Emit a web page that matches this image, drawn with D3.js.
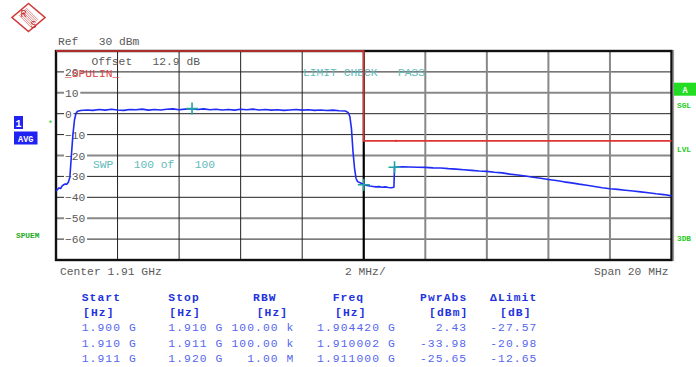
<!DOCTYPE html>
<html><head><meta charset="utf-8">
<script src="https://cdn.jsdelivr.net/npm/d3@7"></script>
<style>
html,body{margin:0;padding:0;background:#fff;}
svg{display:block;}
text{font-family:"Liberation Mono","DejaVu Sans Mono",monospace;white-space:pre;}
</style></head>
<body>
<svg id="c" width="696" height="367"></svg>
<script>
// ---------- DATA ----------
const refLevel = "Ref   30 dBm";
const offsetText = "Offset   12.9 dB";
const yTicks = [20, 10, 0, -10, -20, -30, -40, -50, -60];
const xDivisionsMHz = [0, 2, 4, 6, 8, 10, 12, 14, 16, 18, 20];
// trace: frequency offset from 1.900 GHz (MHz) and level (dBm)
const traceMHz = [
  0.00,0.05,0.10,0.15,0.20,0.25,0.30,0.35,0.40,0.45,0.50,0.55,0.60,0.65,0.70,
  0.8,1.0,1.2,1.4,1.6,1.8,2.0,2.2,2.4,2.6,2.8,3.0,3.2,3.4,3.6,3.8,4.0,4.2,4.4,4.6,4.8,
  5.0,5.2,5.4,5.6,5.8,6.0,6.2,6.4,6.6,6.8,7.0,7.2,7.4,7.6,7.8,8.0,8.2,8.4,8.6,8.8,9.0,9.2,9.4,
  9.50,9.55,9.60,9.65,9.70,9.75,9.80,9.90,10.0,10.1,10.2,10.3,10.4,10.5,10.6,10.7,10.8,10.9,10.98,
  11.0,11.25,11.5,11.75,12.0,12.25,12.5,12.75,13.0,13.25,13.5,13.75,14.0,14.25,14.5,14.75,
  15.0,15.25,15.5,15.75,16.0,16.25,16.5,16.75,17.0,17.25,17.5,17.75,18.0,18.25,18.5,18.75,
  19.0,19.25,19.5,19.75,20.0
];
const traceDbm = [
  -37.0,-36.2,-35.5,-35.8,-34.5,-34.0,-33.6,-33.8,-32.8,-30.5,-20.0,-10.0,-3.0,0.2,1.2,
  1.5,1.8,1.6,2.0,1.7,2.1,1.8,1.6,2.0,1.9,2.2,1.7,2.0,1.8,2.1,2.3,1.9,2.2,2.4,2.0,2.3,
  1.9,2.1,1.8,2.0,1.7,2.1,1.9,2.2,1.8,2.0,1.7,1.9,1.6,1.8,2.0,1.7,1.9,1.6,1.8,1.5,1.7,1.4,1.3,
  0.5,-1.5,-7.0,-18.0,-26.0,-31.0,-32.5,-33.2,-33.9,-34.3,-34.6,-34.8,-35.0,-34.9,-35.2,-35.0,-35.3,-35.4,-35.2,
  -25.6,-25.4,-25.5,-25.6,-25.7,-25.9,-26.0,-26.3,-26.5,-26.8,-27.1,-27.4,-27.6,-28.0,-28.3,-28.9,
  -29.3,-29.8,-30.4,-30.9,-31.5,-32.0,-32.6,-33.1,-33.7,-34.2,-34.8,-35.4,-35.9,-36.2,-36.6,-37.0,
  -37.4,-37.8,-38.3,-38.7,-39.3
];
// limit line segments (MHz offset, dBm)
const limitMHz = [0, 10, 10, 20];
const limitDbm = [30, 30, -13, -13];
const limitDotMHz = 11.05;
// markers
const markerMHz = [4.42, 10.002, 11.0];
const markerDbm = [2.43, -33.98, -25.65];
// table
const tableHeaders = ["Start", "Stop", "RBW", "Freq", "PwrAbs", "\u0394Limit"];
const tableUnits = ["[Hz]", "[Hz]", "[Hz]", "[Hz]", "[dBm]", "[dB]"];
const colStart = ["1.900 G", "1.910 G", "1.911 G"];
const colStop = ["1.910 G", "1.911 G", "1.920 G"];
const colRBW = ["100.00 k", "100.00 k", "1.00 M"];
const colFreq = ["1.904420 G", "1.910002 G", "1.911000 G"];
const colPwr = ["2.43", "-33.98", "-25.65"];
const colDelta = ["-27.57", "-20.98", "-12.65"];

// ---------- DRAW ----------
const svg = d3.select("#c");
const L = 56, R = 671.5, T = 51, B = 260;
const x = d3.scaleLinear().domain([0, 20]).range([L, R]);
const y = d3.scaleLinear().domain([30, -70]).range([T, B]);
const FS = 11.3;
const grey = "#5a5a5a";

// logo
const logo = svg.append("g").attr("transform", "translate(28.5,17.5)");
logo.append("path").attr("d", "M0,-14 L16.5,0 L0,14 L-16.5,0 Z")
  .attr("fill", "none").attr("stroke", "#d23a3a").attr("stroke-width", 1.6);
for (let i = -3; i <= 3; i++) {
  logo.append("line").attr("x1", -6 + i * 1.2).attr("y1", -6 + i * -1.2)
    .attr("x2", 6 + i * 1.2).attr("y2", 6 + i * -1.2)
    .attr("stroke", "#d23a3a").attr("stroke-width", 0.6);
}
logo.append("text").attr("x", -5).attr("y", -1).attr("font-size", 10)
  .attr("text-anchor", "middle").attr("fill", "#c82828").attr("font-family", "Liberation Sans").text("R");
logo.append("text").attr("x", 5).attr("y", 10).attr("font-size", 10)
  .attr("text-anchor", "middle").attr("fill", "#c82828").attr("font-family", "Liberation Sans").text("S");

// header texts
svg.append("text").attr("x", 58).attr("y", 45).attr("font-size", FS).attr("fill", grey).text(refLevel);

// grid
const grid = svg.append("g");
const thickH = new Set([10, -20, -50]);
yTicks.forEach(v => {
  grid.append("line").attr("x1", L).attr("x2", R).attr("y1", y(v)).attr("y2", y(v))
    .attr("stroke", thickH.has(v) ? "#888" : "#222").attr("stroke-width", thickH.has(v) ? 2 : 1);
});
xDivisionsMHz.slice(1, -1).forEach(v => {
  const center = v === 10;
  const greyV = v > 10;
  grid.append("line").attr("x1", x(v)).attr("x2", x(v)).attr("y1", T).attr("y2", B)
    .attr("stroke", center ? "#000" : (greyV ? "#888" : "#222"))
    .attr("stroke-width", center ? 2.2 : (greyV ? 2 : 1));
});

// frame
svg.append("rect").attr("x", L).attr("y", T).attr("width", R - L).attr("height", B - T)
  .attr("fill", "none").attr("stroke", "#111").attr("stroke-width", 2.4);
svg.append("line").attr("x1", R + 2).attr("x2", R + 2).attr("y1", T - 1).attr("y2", B + 1)
  .attr("stroke", "#999").attr("stroke-width", 1.2);

// y tick labels with white background
yTicks.forEach(v => {
  const t = svg.append("text").attr("x", 65).attr("y", y(v) + 4).attr("font-size", FS)
    .attr("fill", grey).text(v < 0 ? "\u2212" + Math.abs(v) : String(v));
  const bb = t.node().getBBox();
  svg.insert("rect", () => t.node()).attr("x", bb.x - 1).attr("y", y(v) - 2)
    .attr("width", bb.width + 2.5).attr("height", 4).attr("fill", "#fff");
});

svg.append("text").attr("x", 91.5).attr("y", 65).attr("font-size", FS).attr("fill", grey).text(offsetText);
svg.append("text").attr("x", 65).attr("y", 77).attr("font-size", FS).attr("fill", "#e04040").text("_SPULIN_");
svg.append("text").attr("x", 303).attr("y", 76).attr("font-size", FS).attr("fill", "#62baba").text("LIMIT CHECK   PASS");
svg.append("text").attr("x", 93).attr("y", 168).attr("font-size", FS).attr("fill", "#62baba").text("SWP   100 of   100");

// limit line
const limLine = d3.line().x((d, i) => x(limitMHz[i])).y((d, i) => y(limitDbm[i]));
svg.append("path").attr("d", limLine(limitMHz)).attr("fill", "none")
  .attr("stroke", "#e03535").attr("stroke-width", 1.6);
svg.append("circle").attr("cx", x(limitDotMHz)).attr("cy", y(-13)).attr("r", 1.2).attr("fill", "#e03535");

// trace
const trLine = d3.line().x((d, i) => x(traceMHz[i])).y((d, i) => y(traceDbm[i]));
svg.append("path").attr("d", trLine(traceMHz)).attr("fill", "none")
  .attr("stroke", "#1f2cf5").attr("stroke-width", 1.6).attr("stroke-linejoin", "round");

// markers
markerMHz.forEach((m, i) => {
  const cx = x(m), cy = y(markerDbm[i]);
  svg.append("path").attr("d", `M${cx - 6},${cy}H${cx + 6}M${cx},${cy - 6}V${cy + 6}`)
    .attr("stroke", "#1fa3a3").attr("stroke-width", 1.6);
});

// left side annotations
svg.append("rect").attr("x", 14).attr("y", 116).attr("width", 9).attr("height", 13).attr("fill", "#1f22f0");
svg.append("text").attr("x", 18.5).attr("y", 126.5).attr("font-size", 10).attr("font-weight", "bold")
  .attr("text-anchor", "middle").attr("fill", "#fff").text("1");
svg.append("rect").attr("x", 14).attr("y", 131.5).attr("width", 23.5).attr("height", 13).attr("fill", "#1f22f0");
svg.append("text").attr("x", 25.7).attr("y", 141.5).attr("font-size", 8.5).attr("font-weight", "bold")
  .attr("text-anchor", "middle").attr("fill", "#fff").text("AVG");
svg.append("text").attr("x", 50.5).attr("y", 127).attr("font-size", 9).attr("text-anchor", "middle")
  .attr("fill", "#22cc22").text("*");
svg.append("text").attr("x", 16).attr("y", 238).attr("font-size", 7.8).attr("font-weight", "bold")
  .attr("fill", "#22aa22").text("SPUEM");

// right side annotations
svg.append("rect").attr("x", 674).attr("y", 82.7).attr("width", 22).attr("height", 13).attr("fill", "#22dd22");
svg.append("text").attr("x", 685).attr("y", 92.5).attr("font-size", 8.5).attr("font-weight", "bold")
  .attr("text-anchor", "middle").attr("fill", "#fff").text("A");
[["SGL", 108], ["LVL", 152], ["3DB", 241]].forEach(([s, yy]) => {
  svg.append("text").attr("x", 677).attr("y", yy).attr("font-size", 7.8).attr("font-weight", "bold")
    .attr("fill", "#22cc22").text(s);
});

// bottom axis texts
svg.append("text").attr("x", 60).attr("y", 275).attr("font-size", FS).attr("fill", grey).text("Center 1.91 GHz");
svg.append("text").attr("x", 345).attr("y", 275).attr("font-size", FS).attr("fill", grey).text("2 MHz/");
svg.append("text").attr("x", 668.5).attr("y", 275).attr("font-size", FS).attr("text-anchor", "end")
  .attr("fill", grey).text("Span 20 MHz");

// table
const LS = 1.1;
const tbl = svg.append("g").attr("font-size", FS).attr("letter-spacing", LS);
const headX = [81.7, 168.3, 253, 332.7, 420, 490];
const unitX = [83, 169.3, 256.7, 335, 429, 500];
tableHeaders.forEach((h, i) => {
  tbl.append("text").attr("x", headX[i]).attr("y", 301).attr("font-weight", "bold")
    .attr("fill", "#2233dd").text(h);
  tbl.append("text").attr("x", unitX[i]).attr("y", 315.5).attr("font-weight", "bold")
    .attr("fill", "#2233dd").text(tableUnits[i]);
});
const rowY = [330.5, 346.5, 361.5];
const valColor = "#5566ee";
const cols = [
  {vals: colStart, x: 81.7, anchor: "start"},
  {vals: colStop, x: 168.3, anchor: "start"},
  {vals: colRBW, x: 294.5, anchor: "end"},
  {vals: colFreq, x: 317, anchor: "start"},
  {vals: colPwr, x: 467.2, anchor: "end"},
  {vals: colDelta, x: 537.5, anchor: "end"}
];
cols.forEach(c => {
  c.vals.forEach((v, r) => {
    tbl.append("text").attr("x", c.x).attr("y", rowY[r]).attr("text-anchor", c.anchor)
      .attr("fill", valColor).text(v);
  });
});
</script>
</body></html>
